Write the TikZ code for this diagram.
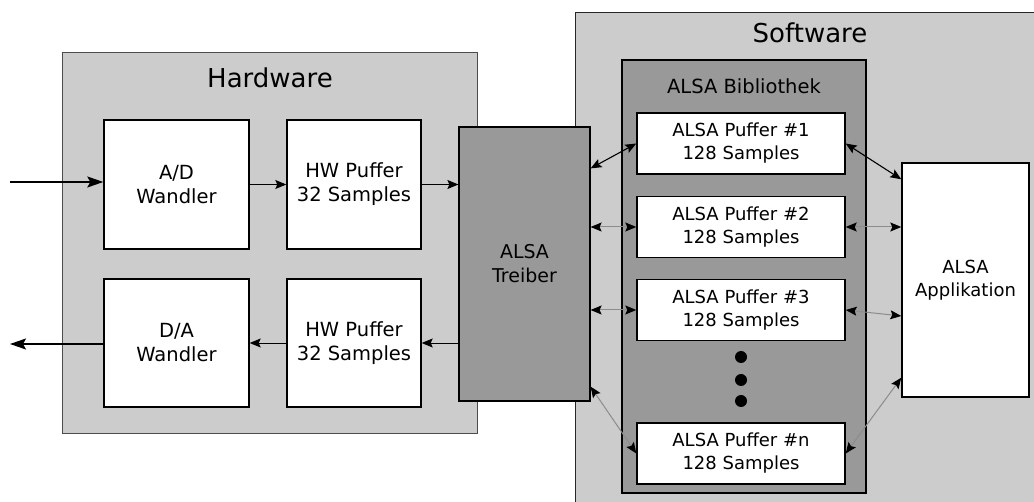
\documentclass[tikz,border=0pt]{standalone}
\usepackage{fontspec}
\setmainfont{DejaVu Sans}
\usetikzlibrary{arrows.meta}

\begin{document}
\begin{tikzpicture}[x=1pt,y=-1pt,
    >={Stealth[length=11pt,width=9pt,inset=2pt,color=black]},
    group/.style={draw=black!70,line width=0.8pt,fill=black!20,inner sep=0pt},
    darkbox/.style={draw=black,line width=1.2pt,fill=black!40,inner sep=0pt,align=center,font=\fontsize{19}{24}\selectfont},
    block/.style={draw=black,line width=1.4pt,fill=white,inner sep=0pt,align=center,font=\fontsize{18}{23}\selectfont},
    hwblock/.style={block,font=\fontsize{19.5}{24}\selectfont},
    title/.style={font=\fontsize{26}{30}\selectfont},
    label/.style={font=\fontsize{19.5}{23}\selectfont},
    io/.style={-{Stealth[length=16pt,width=11pt,inset=3pt]},line width=1.5pt},
    flow/.style={->,line width=0.9pt},
    link/.style={<->,line width=1.1pt},
    weak/.style={<->,line width=1pt,draw=black!45}]
                \useasboundingbox (0,0) rectangle (1034,502);
                % hardware side
                \node[group,minimum width=415pt,minimum height=381pt] (hw) at (269.5,242.5) {};
                \node[title] (hwtitle) at (270,78) {Hardware};
                \node[group,draw=black!85,minimum width=465pt,minimum height=498pt] (sw) at (807.5,261) {};
                \node[title] (swtitle) at (810,33) {Software};
                \node[hwblock,minimum width=145pt,minimum height=129pt] (ad) at (176.5,184.5) {A/D\\Wandler};
                \node[hwblock,minimum width=134pt,minimum height=129pt] (hwin) at (354,184.5) {HW Puffer\\32 Samples};
                \node[hwblock,minimum width=145pt,minimum height=128pt] (da) at (176.5,343) {D/A\\Wandler};
                \node[hwblock,minimum width=134pt,minimum height=128pt] (hwout) at (354,343) {HW Puffer\\32 Samples};
                \node[darkbox,minimum width=131pt,minimum height=274pt] (treiber) at (524.5,264) {ALSA\\Treiber};
                % software side
                \node[darkbox,minimum width=244pt,minimum height=433pt] (bib) at (744,276.5) {};
                \node[label] (bibtitle) at (744,86) {ALSA Bibliothek};
                \foreach \i/\y in {1/143.5,2/227,3/310}
                {
                    \node[block,minimum width=208pt,minimum height=61pt] (p\i) at (741,\y) {ALSA Puffer \#\i\\128 Samples};
                }
                \node[block,minimum width=208pt,minimum height=61pt] (pn) at (741,453.5) {ALSA Puffer \#n\\128 Samples};
                \foreach \i/\y in {1/357,2/380,3/401}
                {
                    \node[circle,fill=black,inner sep=0pt,minimum size=12pt] (d\i) at (741,\y) {};
                }
                \node[block,minimum width=127pt,minimum height=234pt] (app) at (965.5,280) {ALSA\\Applikation};
                % signal path
                \coordinate (in) at (10,182);
                \coordinate (out) at (10,344);
                \draw[io] (in) -- (in -| ad.west);
                \draw[flow] (ad.east) -- (hwin.west);
                \draw[flow] (hwin.east) -- (hwin.east -| treiber.west);
                \draw[flow] (treiber.west |- hwout.east) -- (hwout.east);
                \draw[flow] (hwout.west) -- (da.east);
                \draw[io] (da.west |- out) -- (out);
                % buffers
                \draw[link] ([yshift=-42pt]treiber.north east) -- (p1.west);
                \draw[weak] (treiber.east |- p2.west) -- (p2.west);
                \draw[weak] (treiber.east |- p3.west) -- (p3.west);
                \draw[weak] ([yshift=15pt]treiber.south east) -- (pn.west);
                \draw[link] (p1.east) -- ([yshift=-17pt]app.north west);
                \draw[weak] (p2.east) -- (app.west |- p2.east);
                \draw[weak] (p3.east) -- ([yshift=-36pt]app.west);
                \draw[weak] (pn.east) -- ([yshift=20pt]app.south west);
            \end{tikzpicture}
\end{document}
